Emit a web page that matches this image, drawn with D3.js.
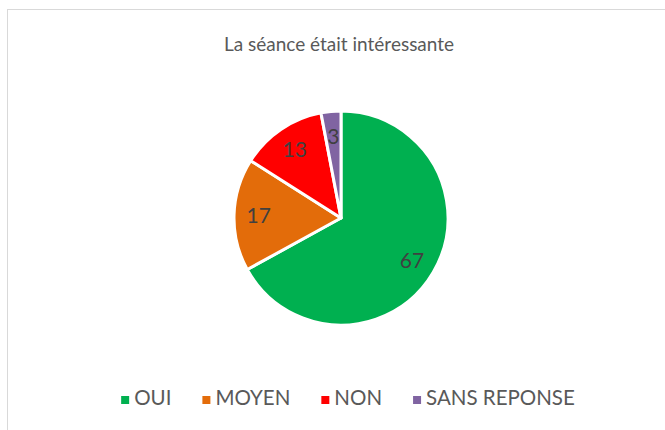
<!DOCTYPE html>
<html>
<head>
<meta charset="utf-8">
<script src="https://cdn.jsdelivr.net/npm/d3@7"></script>
<style>
  body { margin: 0; background: #fff; }
  text { font-family: Lato, "Open Sans", sans-serif; }
</style>
</head>
<body>
<div id="chart"></div>
<script>
// data
const categories = ["OUI", "MOYEN", "NON", "SANS REPONSE"];
const values = [67, 17, 13, 3];
const colors = ["#00b050", "#e36c0a", "#ff0000", "#8064a2"];
const title = "La séance était intéressante";

const W = 665, H = 430;
const cx = 341, cy = 218, radius = 107;

const svg = d3.select("#chart")
  .append("svg")
    .attr("width", W)
    .attr("height", H);

// chart frame (runs off the right and bottom edge)
svg.append("rect")
  .attr("x", 7.5)
  .attr("y", 9.5)
  .attr("width", W + 20)
  .attr("height", H + 20)
  .attr("fill", "#fff")
  .attr("stroke", "#d9d9d9")
  .attr("stroke-width", 1);

svg.append("text")
  .attr("x", 339)
  .attr("y", 51)
  .attr("text-anchor", "middle")
  .attr("fill", "#595959")
  .style("font-size", "19px")
  .text(title);

const data = categories.map((c, i) => ({ name: c, value: values[i], color: colors[i] }));

const pie = d3.pie()
  .sort(null)
  .value(d => d.value);

const arc = d3.arc()
  .innerRadius(0)
  .outerRadius(radius);

const labelArc = d3.arc()
  .innerRadius(radius * 0.77)
  .outerRadius(radius * 0.77);

const g = svg.append("g")
  .attr("transform", `translate(${cx}, ${cy})`);

const arcs = pie(data);

g.selectAll("path")
  .data(arcs)
  .join("path")
    .attr("d", arc)
    .attr("fill", d => d.data.color)
    .attr("stroke", "#fff")
    .attr("stroke-width", 3)
    .attr("stroke-linejoin", "round");

g.selectAll(".lbl")
  .data(arcs)
  .join("text")
    .attr("class", "lbl")
    .attr("transform", d => `translate(${labelArc.centroid(d)})`)
    .attr("text-anchor", "middle")
    .attr("dy", "0.36em")
    .attr("fill", "#404040")
    .style("font-size", "21px")
    .text(d => d.data.value);

// legend, laid out from text widths and centred
const legend = svg.append("g");
const items = legend.selectAll("g")
  .data(data)
  .join("g");

items.append("rect")
  .attr("width", 8)
  .attr("height", 8)
  .attr("y", -9)
  .attr("fill", d => d.color);

items.append("text")
  .attr("x", 13)
  .attr("fill", "#595959")
  .style("font-size", "20.5px")
  .text(d => d.name);

let xpos = 0;
items.each(function() {
  const w = d3.select(this).select("text").node().getComputedTextLength();
  d3.select(this).attr("transform", `translate(${xpos}, 0)`);
  xpos += 13 + w + 31;
});
const total = xpos - 31;
legend.attr("transform", `translate(${348 - total / 2}, 405)`);
</script>
</body>
</html>
